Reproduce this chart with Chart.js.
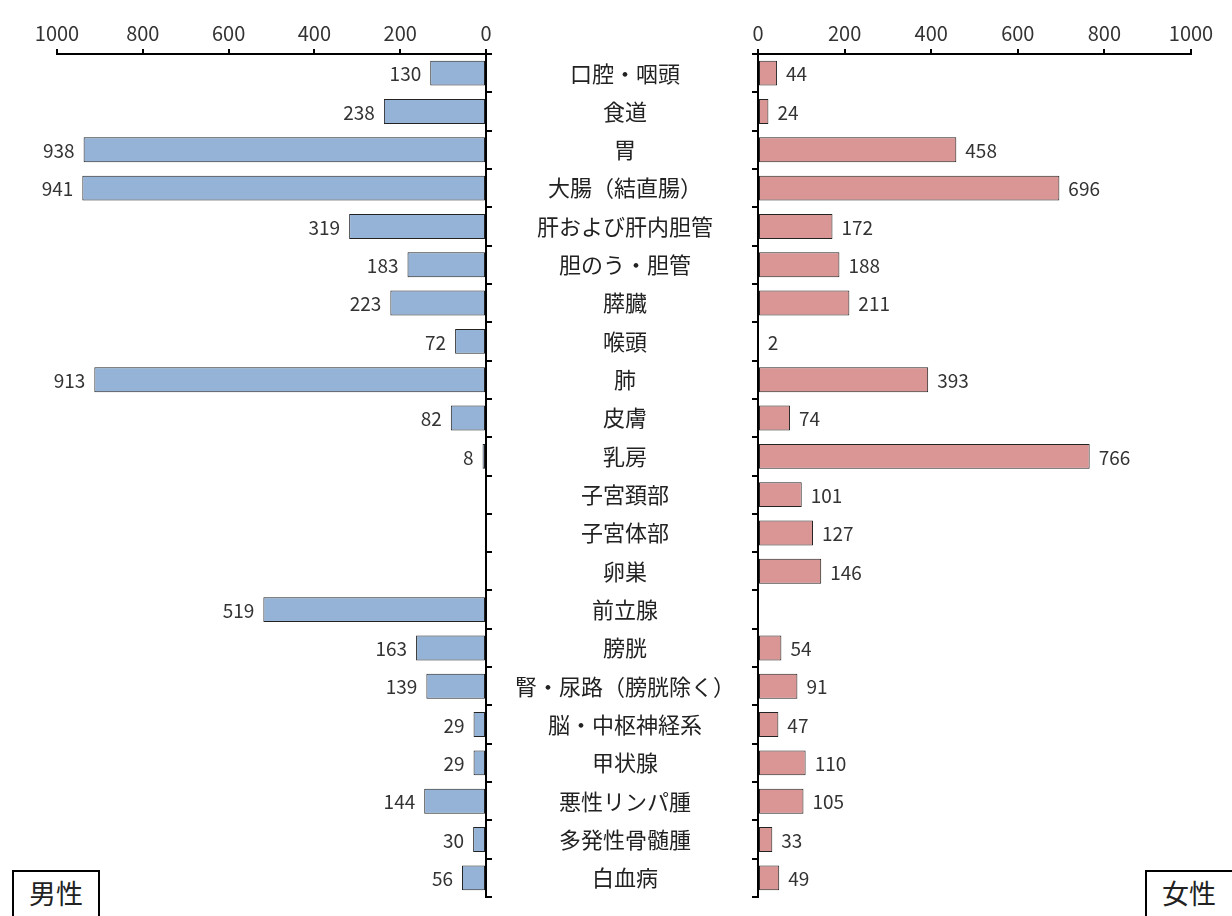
<!DOCTYPE html>
<html>
<head>
<meta charset="utf-8">
<script src="https://cdn.jsdelivr.net/npm/chart.js@4"></script>
<style>
  html, body { margin: 0; padding: 0; background: #fff; width: 1232px; height: 916px; overflow: hidden; }
  #wrapL { position: absolute; left: 0; top: 0; width: 758px; height: 916px; }
  #wrapR { position: absolute; left: 752px; top: 0; width: 480px; height: 916px; }
  .box { position: absolute; top: 870px; height: 60px; border: 2px solid #000; background: #fff;
         font-family: "Noto Sans CJK JP", sans-serif; font-size: 27px; color: #222;
         box-sizing: border-box; text-align: center; line-height: 42px; }
</style>
</head>
<body>
<div id="wrapL"><canvas id="left"></canvas></div>
<div id="wrapR"><canvas id="right"></canvas></div>
<div class="box" style="left:12px;width:88px;">男性</div>
<div class="box" style="left:1145px;width:100px;padding-right:12px;">女性</div>
<script>
const categories = ["口腔・咽頭","食道","胃","大腸（結直腸）","肝および肝内胆管","胆のう・胆管","膵臓","喉頭","肺","皮膚","乳房","子宮頚部","子宮体部","卵巣","前立腺","膀胱","腎・尿路（膀胱除く）","脳・中枢神経系","甲状腺","悪性リンパ腫","多発性骨髄腫","白血病"];
const maleValues = [130,238,938,941,319,183,223,72,913,82,8,null,null,null,519,163,139,29,29,144,30,56];
const femaleValues = [44,24,458,696,172,188,211,2,393,74,766,101,127,146,null,54,91,47,110,105,33,49];
const axisMin = 0, axisMax = 1000, axisStep = 200;

const FONT = '"Noto Sans CJK JP", sans-serif';
const catFontSize = 22;
const labelWidth = 272;
const tickLen = 6;

// measure widest category label to center labels in the middle gap
const mctx = document.createElement('canvas').getContext('2d');
mctx.font = catFontSize + 'px ' + FONT;
let widest = 0;
categories.forEach(c => { widest = Math.max(widest, mctx.measureText(c).width); });
const catPadding = Math.max(0, (labelWidth - tickLen - widest) / 2);

const valueLabels = {
  id: 'valueLabels',
  afterDatasetsDraw(chart, args, opts) {
    const ctx = chart.ctx;
    const meta = chart.getDatasetMeta(0);
    const data = chart.data.datasets[0].data;
    ctx.save();
    ctx.font = '19px ' + FONT;
    ctx.fillStyle = '#333';
    ctx.textBaseline = 'middle';
    ctx.textAlign = opts.side === 'left' ? 'right' : 'left';
    meta.data.forEach((bar, i) => {
      const v = data[i];
      if (v === null || v === undefined) return;
      const x = opts.side === 'left' ? bar.x - 9 : bar.x + 9;
      ctx.fillText(String(v), x, bar.y + 1);
    });
    ctx.restore();
  }
};

function zeroPad(s) { s.paddingTop = 0; s.paddingBottom = 0; s.paddingLeft = 0; s.paddingRight = 0; }

function makeChart(id, values, color, side) {
  const isLeft = side === 'left';
  return new Chart(document.getElementById(id), {
    type: 'bar',
    data: {
      labels: categories,
      datasets: [{
        data: values,
        backgroundColor: color,
        borderColor: '#222',
        borderWidth: 1,
        borderSkipped: false,
        barPercentage: 0.65,
        categoryPercentage: 1.0
      }]
    },
    options: {
      indexAxis: 'y',
      responsive: true,
      maintainAspectRatio: false,
      animation: false,
      layout: { padding: isLeft ? { left: 57, right: 0, top: 0, bottom: 19 } : { left: 0, right: 41, top: 0, bottom: 19 } },
      plugins: {
        legend: { display: false },
        tooltip: { enabled: false },
        valueLabels: { side: side }
      },
      scales: {
        x: {
          position: 'top',
          reverse: isLeft,
          min: axisMin, max: axisMax,
          ticks: { stepSize: axisStep, color: '#333', font: { family: FONT, size: 20 }, padding: 4, maxRotation: 0,
                   callback: (v) => String(v) },
          grid: { drawOnChartArea: false, drawTicks: true, tickLength: 5, color: '#000', lineWidth: 2 },
          border: { display: true, color: '#000', width: 2 },
          afterFit: (s) => { s.height = 54; zeroPad(s); }
        },
        y: {
          position: isLeft ? 'right' : 'left',
          ticks: isLeft
            ? { display: true, crossAlign: 'center', padding: catPadding, color: '#222', font: { family: FONT, size: catFontSize }, autoSkip: false }
            : { display: false },
          grid: { drawOnChartArea: false, drawTicks: true, tickLength: tickLen, color: '#000', lineWidth: 2, offset: true },
          border: { display: true, color: '#000', width: 2 },
          afterFit: isLeft ? (s) => { s.width = labelWidth; zeroPad(s); } : (s) => { s.width = tickLen; zeroPad(s); }
        }
      }
    },
    plugins: [valueLabels]
  });
}

makeChart('left', maleValues, '#95B3D7', 'left');
makeChart('right', femaleValues, '#DA9694', 'right');
</script>
</body>
</html>
